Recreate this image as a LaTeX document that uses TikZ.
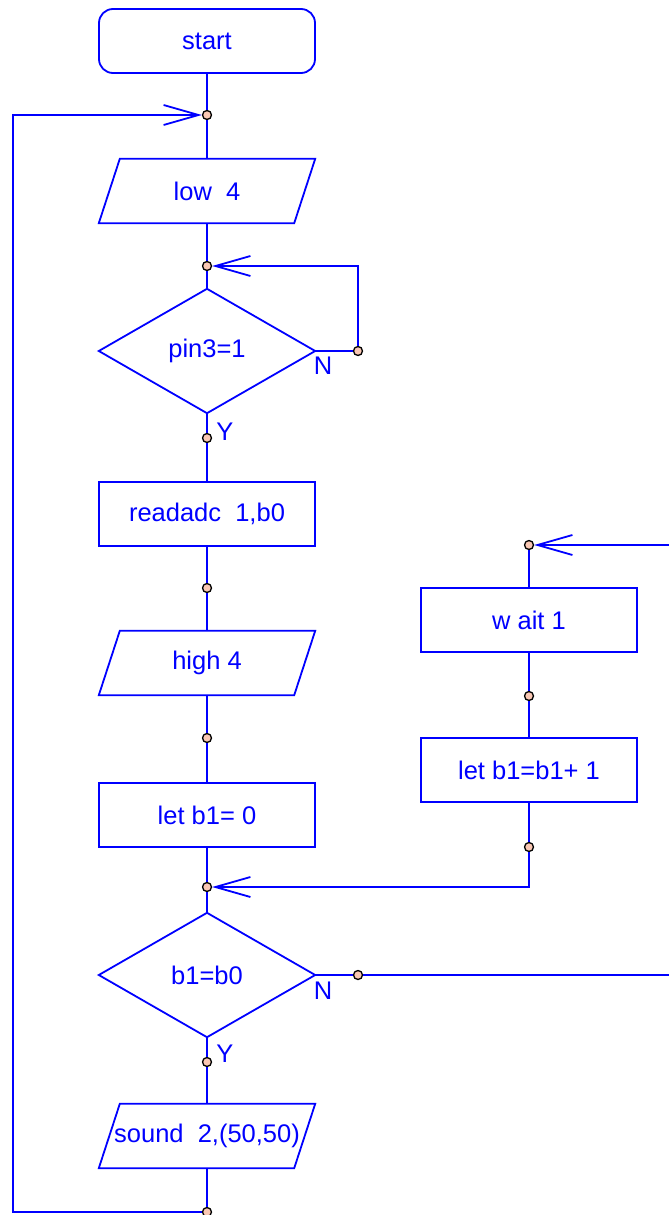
\documentclass[tikz,border=0pt]{standalone}
\usepackage{fontspec}
\setmainfont{Liberation Sans}
\usetikzlibrary{arrows.meta}
\definecolor{flow}{RGB}{0,0,255}
\definecolor{jointfill}{RGB}{250,200,180}

\begin{document}
\begin{tikzpicture}[x=1pt,y=-1pt,
  every node/.style={text=flow, font=\fontsize{25.5}{30}\selectfont},
  line/.style={draw=flow, line width=1.8pt},
  box/.style={draw=flow, line width=1.8pt, minimum width=216pt, minimum height=64pt, inner sep=0pt},
  frame/.style={minimum width=216pt, minimum height=64pt, inner sep=0pt},
  diam/.style={minimum width=216pt, minimum height=124pt, inner sep=0pt},
  joint/.style={circle, draw=black, fill=jointfill, line width=1.3pt, minimum size=9pt, inner sep=0pt},
  barb/.style={-{Straight Barb[length=35pt,width=20pt,line width=1.8pt]}}
]
\useasboundingbox (0,0) rectangle (669,1215);

% main column
\node[box, rounded corners=14pt] (start) at (207,41) {start};
\node[joint] (j1) at (207,115) {};
\node[frame] (p1) at (207,191) {low\ \ 4};
\node[joint] (j2) at (207,266) {};
\node[diam] (d1) at (207,351) {pin3=1};
\node[joint] (c1) at (358,351) {};
\node[joint] (c2) at (207,438) {};
\node[box] (r1) at (207,514) {readadc\ \ 1,b0};
\node[joint] (c3) at (207,588) {};
\node[frame] (p2) at (207,663) {high 4};
\node[joint] (c4) at (207,738) {};
\node[box] (r2) at (207,815) {let b1= 0};
\node[joint] (j3) at (207,887) {};
\node[diam] (d2) at (207,975) {b1=b0};
\node[joint] (c5) at (358,975) {};
\node[joint] (c6) at (207,1062) {};
\node[frame] (p3) at (207,1136) {sound\ \ 2,(50,50)};
\node[joint] (c7) at (207,1212) {};
\coordinate (lc) at (13,1212);
\coordinate (e1) at (669,975);

% side column
\coordinate (e2) at (669,545);
\node[joint] (j4) at (529,545) {};
\node[box] (r3) at (529,620) {w ait 1};
\node[joint] (c8) at (529,696) {};
\node[box] (r4) at (529,770) {let b1=b1+ 1};
\node[joint] (c9) at (529,847) {};

% branch labels
\node (n1) at (323,366) {N};
\node (y1) at (225,432) {Y};
\node (n2) at (323,991) {N};
\node (y2) at (225,1054) {Y};

% input/output shapes
\foreach \p in {p1,p2,p3}
  \path[line] ([xshift=21pt]\p.north west) -- (\p.north east)
    -- ([xshift=-21pt]\p.south east) -- (\p.south west) -- cycle;
% decision shapes
\foreach \d in {d1,d2}
  \path[line] (\d.north) -- (\d.east) -- (\d.south) -- (\d.west) -- cycle;

% connectors
\draw[line] (start.south) -- (j1) -- (p1.north);
\draw[line] (p1.south) -- (j2) -- (d1.north);
\draw[line] (d1.east) -- (c1);
\draw[line,barb] (c1) |- (j2);
\draw[line] (d1.south) -- (c2) -- (r1.north);
\draw[line] (r1.south) -- (c3) -- (p2.north);
\draw[line] (p2.south) -- (c4) -- (r2.north);
\draw[line] (r2.south) -- (j3) -- (d2.north);
\draw[line] (d2.east) -- (c5) -- (e1);
\draw[line] (d2.south) -- (c6) -- (p3.north);
\draw[line] (p3.south) -- (c7);
\draw[line,barb] (c7) -- (lc) |- (j1);
\draw[line,barb] (e2) -- (j4);
\draw[line] (j4) -- (r3.north);
\draw[line] (r3.south) -- (c8) -- (r4.north);
\draw[line] (r4.south) -- (c9);
\draw[line,barb] (c9) |- (j3);
\end{tikzpicture}
\end{document}
